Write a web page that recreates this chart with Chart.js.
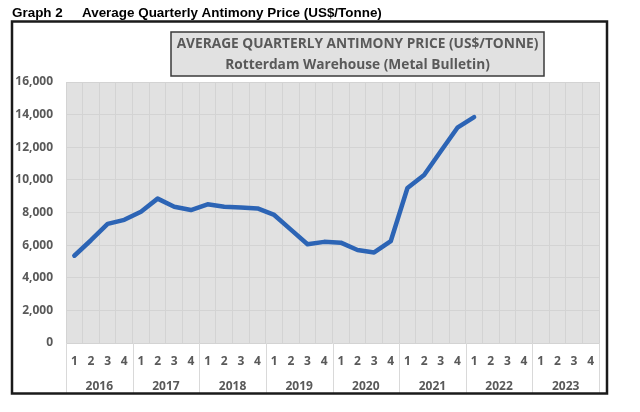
<!DOCTYPE html>
<html><head><meta charset="utf-8">
<script src="https://cdn.jsdelivr.net/npm/chart.js@4/dist/chart.umd.min.js"></script>
<style>html,body{margin:0;padding:0;background:#fff}</style>
</head><body>
<canvas id="c" width="640" height="412"></canvas>
<script>
const pageTitleLabel = 'Graph 2';
const pageTitle = 'Average Quarterly Antimony Price (US$/Tonne)';
const chartTitleLines = ['AVERAGE QUARTERLY ANTIMONY PRICE (US$/TONNE)', 'Rotterdam Warehouse (Metal Bulletin)'];
const years = ['2016', '2017', '2018', '2019', '2020', '2021', '2022', '2023'];
const quarters = ['1', '2', '3', '4'];
const prices = [
  5350, 6300, 7300, 7550,
  8050, 8850, 8350, 8150,
  8500, 8350, 8300, 8250,
  7850, 6950, 6050, 6200,
  6150, 5700, 5550, 6250,
  9500, 10300, 11750, 13200,
  13850, null, null, null,
  null, null, null, null
];
const yMin = 0, yMax = 16000, yStep = 2000;

const labels = [];
years.forEach(() => quarters.forEach(q => labels.push(q)));

const TXT = '#595959';
const FONT = '"Open Sans", "Liberation Sans", sans-serif';
const HFONT = '"Liberation Sans", Arial, sans-serif';

const decor = {
  id: 'decor',
  beforeDraw(chart) {
    const ctx = chart.ctx, a = chart.chartArea;
    ctx.save();
    ctx.fillStyle = '#fff';
    ctx.fillRect(0, 0, chart.width, chart.height);
    ctx.fillStyle = '#e1e1e1';
    ctx.fillRect(a.left, a.top, a.right - a.left, a.bottom - a.top);
    ctx.restore();
  },
  afterDraw(chart) {
    const ctx = chart.ctx, a = chart.chartArea, xs = chart.scales.x;
    ctx.save();
    // header
    ctx.fillStyle = '#000';
    ctx.font = 'bold 12px ' + HFONT;
    const hw = ctx.measureText(pageTitle).width;
    const hfs = 12 * 300 / hw;
    ctx.font = 'bold ' + hfs.toFixed(2) + 'px ' + HFONT;
    ctx.textBaseline = 'alphabetic';
    ctx.textAlign = 'left';
    ctx.fillText(pageTitleLabel, 12, 17);
    ctx.fillText(pageTitle, 82, 17);
    // year separators & labels
    const half = (xs.getPixelForValue(1) - xs.getPixelForValue(0)) / 2;
    ctx.strokeStyle = '#d9d9d9';
    ctx.lineWidth = 1;
    for (let k = 0; k <= years.length; k++) {
      const x = Math.round(xs.getPixelForValue(k * quarters.length) - half) + 0.5;
      ctx.beginPath(); ctx.moveTo(x, a.bottom); ctx.lineTo(x, 393); ctx.stroke();
    }
    ctx.fillStyle = TXT;
    ctx.font = 'bold 12px ' + FONT;
    ctx.textAlign = 'center';
    ctx.textBaseline = 'middle';
    years.forEach((y, k) => {
      const x0 = xs.getPixelForValue(k * quarters.length) - half;
      const x1 = xs.getPixelForValue((k + 1) * quarters.length - 1) + half;
      ctx.fillText(y, (x0 + x1) / 2, 387);
    });
    // outer box
    ctx.strokeStyle = '#1a1a1a';
    ctx.lineWidth = 2.5;
    ctx.strokeRect(12, 21.5, 595, 372);
    // title box
    ctx.fillStyle = '#e1e1e1';
    ctx.fillRect(171, 32, 373, 44);
    ctx.strokeStyle = '#3a3a3a';
    ctx.lineWidth = 1.5;
    ctx.strokeRect(171, 32, 373, 44);
    ctx.fillStyle = TXT;
    ctx.font = 'bold 13px ' + FONT;
    const w = ctx.measureText(chartTitleLines[0]).width;
    const fs = 13 * 362 / w;
    ctx.font = 'bold ' + fs.toFixed(2) + 'px ' + FONT;
    ctx.fillText(chartTitleLines[0], 357.5, 44.5);
    ctx.fillText(chartTitleLines[1], 357.5, 65);
    ctx.restore();
  }
};

new Chart(document.getElementById('c'), {
  type: 'line',
  data: {
    labels: labels,
    datasets: [{
      data: prices,
      borderColor: '#2c64b5',
      borderWidth: 4.5,
      pointRadius: 0,
      tension: 0,
      borderJoinStyle: 'round',
      borderCapStyle: 'round',
      fill: false
    }]
  },
  options: {
    responsive: false,
    devicePixelRatio: 1,
    animation: false,
    layout: { padding: { left: 0, right: 41, top: 82, bottom: 19 } },
    plugins: { legend: { display: false }, title: { display: false }, tooltip: { enabled: false } },
    scales: {
      x: {
        offset: true,
        grid: { offset: true, color: '#d3d3d3', lineWidth: 1, drawTicks: false },
        border: { display: false },
        ticks: { color: TXT, font: { family: FONT, size: 12, weight: 'bold' }, padding: 11, maxRotation: 0, autoSkip: false },
        afterFit(s) { s.height = 50; }
      },
      y: {
        min: yMin, max: yMax,
        grid: { color: '#d3d3d3', lineWidth: 1, drawTicks: false },
        border: { display: false },
        ticks: {
          stepSize: yStep,
          color: TXT,
          font: { family: FONT, size: 12, weight: 'bold' },
          padding: 13,
          callback: v => v.toLocaleString('en-US')
        },
        afterFit(s) { s.width = 66; }
      }
    }
  },
  plugins: [decor]
});
</script>
</body></html>
